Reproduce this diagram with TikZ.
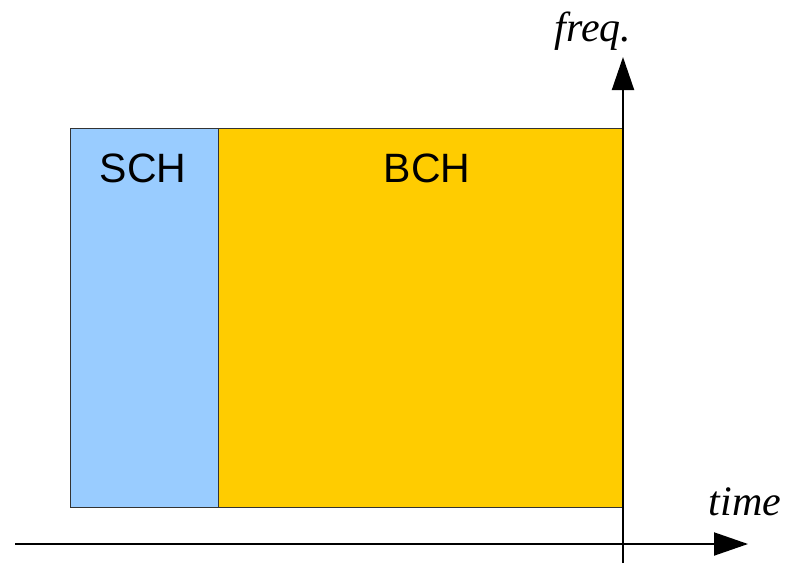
\documentclass[tikz,border=0pt]{standalone}
\usepackage{fontspec}
\setmainfont{Liberation Serif}
\setsansfont{Liberation Sans}
\usetikzlibrary{arrows.meta}
\definecolor{schblue}{HTML}{99CCFF}
\definecolor{bchyellow}{HTML}{FFCC00}
\definecolor{edgegray}{HTML}{333333}
\tikzset{
  chbox/.style={draw=edgegray, line width=1pt, inner sep=0pt, outer sep=0pt},
  chlabel/.style={font=\sffamily\fontsize{41}{41}\selectfont, inner sep=0pt},
  axislabel/.style={font=\itshape\fontsize{42}{42}\selectfont, inner sep=0pt},
  axisline/.style={line width=2pt, black}
}
\begin{document}
\begin{tikzpicture}[x=1pt,y=-1pt]
\useasboundingbox (0,0) rectangle (785,563);
% boxes
\node[chbox, fill=schblue, minimum width=148pt, minimum height=379pt, anchor=north west] (sch) at (70,128) {};
\node[chbox, fill=bchyellow, minimum width=405pt, minimum height=379pt, anchor=north west] (bch) at (218,128) {};
\node[chlabel] (schl) at (143,168) {SCH};
\node[chlabel] (bchl) at (427,168) {BCH};
% axes
\coordinate (xs) at (15,544);
\coordinate (xe) at (748,544);
\coordinate (ys) at (623,563);
\coordinate (ye) at (623,57);
\draw[axisline, -{Triangle[length=34pt,width=23pt]}] (xs) -- (xe);
\draw[axisline, -{Triangle[length=33pt,width=22pt]}] (ys) -- (ye);
\node[axislabel, anchor=base] (fq) at (593,41) {freq.};
\node[axislabel, anchor=base] (tm) at (745,515) {time};
\end{tikzpicture}
\end{document}
